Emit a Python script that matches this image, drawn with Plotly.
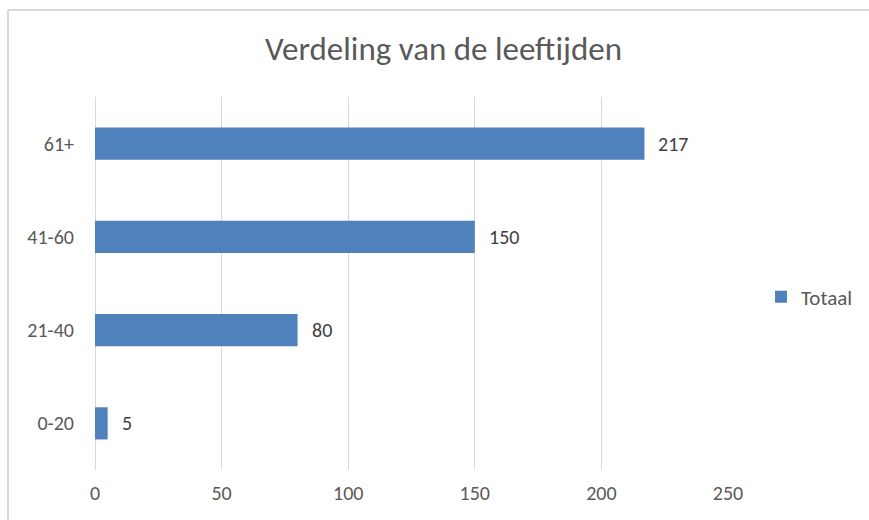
import plotly.graph_objects as go

categories = ["0-20", "21-40", "41-60", "61+"]
values = [5, 80, 150, 217]
series_name = "Totaal"
x_ticks = [0, 50, 100, 150, 200, 250]

FONT = "Carlito, Lato, sans-serif"
BAR = "#4f81bd"
GRAY = "#595959"

W, H = 869, 520
L_s, R_s, T_s, B_s = 95, 728, 97, 470  # plot area in screen pixels
L = L_s
T = T_s
R = W - R_s
B = H - B_s
pw = W - L - R
ph = H - T - B

def px(xs):
    return (xs - L) / pw

def py(ys):
    return (H - B - ys) / ph

fig = go.Figure()
fig.add_trace(go.Bar(
    y=categories, x=values, orientation="h", name=series_name,
    marker=dict(color=BAR, line=dict(width=0)),
))

for c, v in zip(categories, values):
    fig.add_annotation(x=v, y=c, text=str(v), showarrow=False, xanchor="left",
                       xshift=12, font=dict(family=FONT, size=20, color="#404040"))

# chart frame: only top and left edges are visible in the reference
fig.add_shape(type="line", xref="paper", yref="paper",
              x0=px(8), x1=px(900), y0=py(10), y1=py(10),
              line=dict(color="#d9d9d9", width=2), layer="below")
fig.add_shape(type="line", xref="paper", yref="paper",
              x0=px(8), x1=px(8), y0=py(10), y1=py(600),
              line=dict(color="#d9d9d9", width=2), layer="below")

fig.update_layout(
    width=W, height=H,
    margin=dict(l=L, r=R, t=T, b=B, autoexpand=False),
    paper_bgcolor="white", plot_bgcolor="white",
    title=dict(text="Verdeling van de leeftijden", x=443.5 / W, xanchor="center",
               y=1 - 48 / H, yanchor="middle",
               font=dict(family=FONT, size=33, color=GRAY)),
    font=dict(family=FONT, color=GRAY),
    bargap=0.655,
    showlegend=True,
    legend=dict(x=px(858), xanchor="right", y=py(297), yanchor="middle",
                font=dict(family=FONT, size=21, color=GRAY),
                itemwidth=30, bgcolor="rgba(0,0,0,0)"),
    xaxis=dict(range=[0, 250], tickvals=x_ticks, showgrid=True,
               gridcolor="#d9d9d9", gridwidth=1, zeroline=True,
               zerolinecolor="#d9d9d9", zerolinewidth=1, showline=False,
               ticks="", tickfont=dict(family=FONT, size=20, color=GRAY),
               ticklabelstandoff=9, fixedrange=True),
    yaxis=dict(categoryorder="array", categoryarray=categories, showgrid=False,
               showline=False, ticks="", ticklabelstandoff=20,
               tickfont=dict(family=FONT, size=20, color=GRAY), fixedrange=True),
)

fig.write_html(
    "out.html",
    config={"displayModeBar": False},
    post_script="document.body.style.margin='0';document.body.style.overflow='hidden';",
)
